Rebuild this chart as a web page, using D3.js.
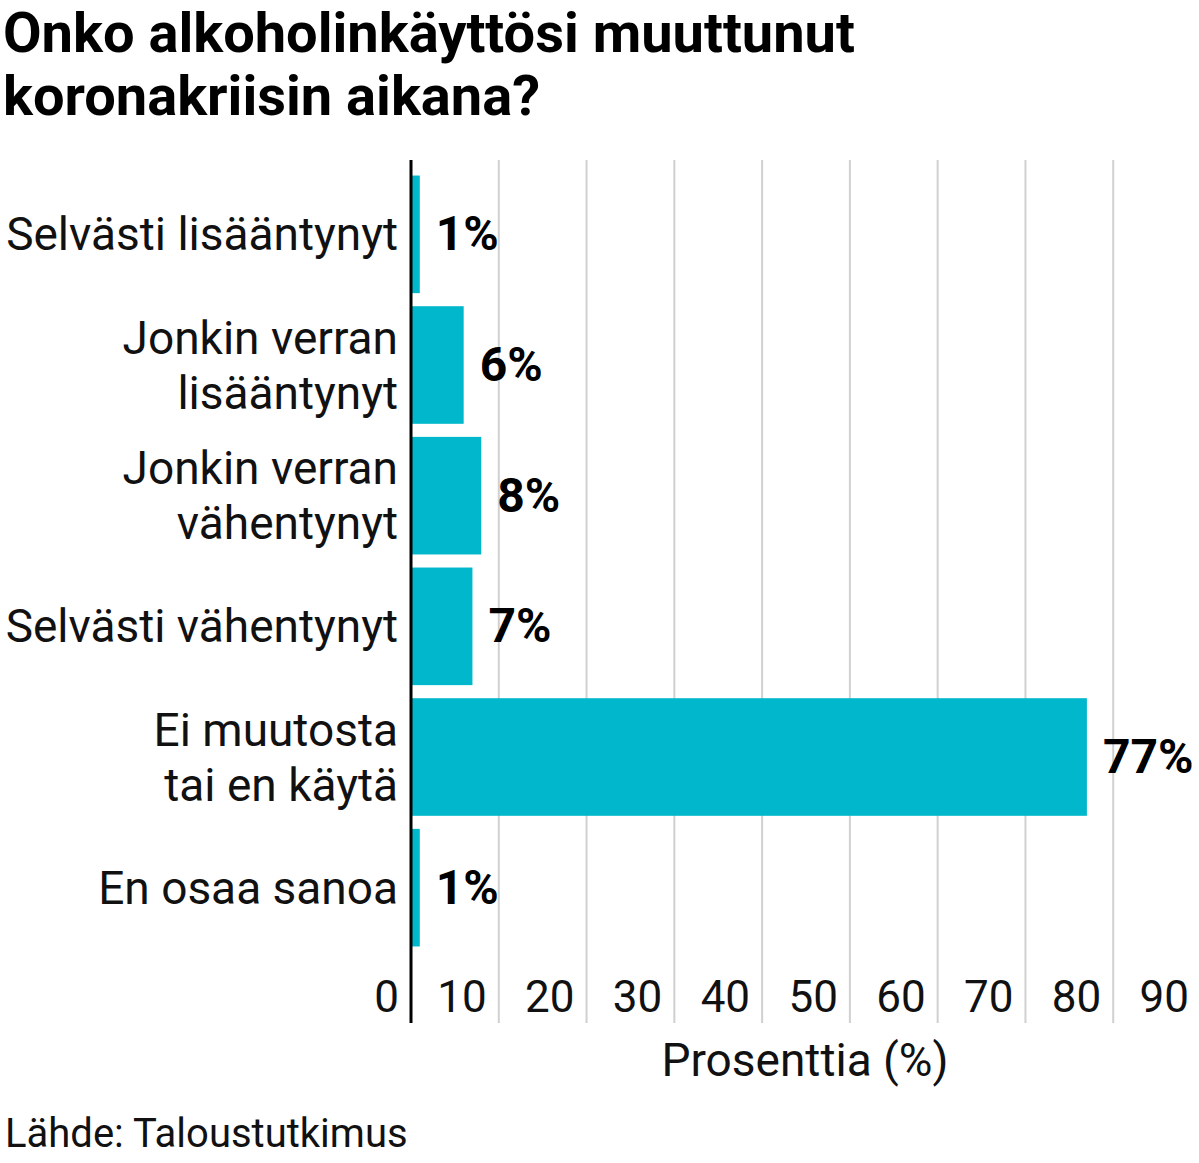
<!DOCTYPE html>
<html><head><meta charset="utf-8">
<script src="https://cdn.jsdelivr.net/npm/d3@7"></script>
<style>body{margin:0;background:#fff}text{font-family:Roboto,sans-serif}</style>
</head><body>
<svg id="c" width="1199" height="1163"></svg>
<script>
const categories=[["Selvästi lisääntynyt"],["Jonkin verran","lisääntynyt"],["Jonkin verran","vähentynyt"],["Selvästi vähentynyt"],["Ei muutosta","tai en käytä"],["En osaa sanoa"]];
const values=[1,6,8,7,77,1];
const ticks=[0,10,20,30,40,50,60,70,80,90];
const svg=d3.select("#c");
const x=d3.scaleLinear().domain([0,90]).range([411,1201]);
const y=d3.scaleBand().domain(d3.range(values.length)).range([169,953]).paddingInner(0.1).paddingOuter(0.05);
svg.append("text").attr("x",3).attr("y",52).attr("font-size",56).attr("font-weight",700).text("Onko alkoholinkäyttösi muuttunut");
svg.append("text").attr("x",3).attr("y",115).attr("font-size",56).attr("font-weight",700).text("koronakriisin aikana?");
svg.selectAll(".g").data(ticks.slice(1)).enter().append("line").attr("x1",d=>x(d)).attr("x2",d=>x(d)).attr("y1",160).attr("y2",1023).attr("stroke","#d0d0d0").attr("stroke-width",2);
svg.selectAll(".b").data(values).enter().append("rect").attr("x",x(0)).attr("y",(d,i)=>y(i)).attr("width",d=>x(d)-x(0)).attr("height",y.bandwidth()).attr("fill","#00b7cb");
svg.selectAll(".v").data(values).enter().append("text").attr("x",d=>x(d)+16).attr("y",(d,i)=>y(i)+y.bandwidth()/2+16).attr("font-size",48).attr("font-weight",700).text(d=>d+"%");
categories.forEach((c,i)=>{const cy=y(i)+y.bandwidth()/2;const n=c.length;
 c.forEach((l,j)=>svg.append("text").attr("x",398).attr("y",cy+16+(j-(n-1)/2)*55).attr("text-anchor","end").attr("font-size",46).attr("fill","#111").text(l));});
svg.selectAll(".t").data(ticks).enter().append("text").attr("x",d=>x(d)-12).attr("y",1012).attr("text-anchor","end").attr("font-size",44).attr("fill","#111").text(d=>d);
svg.append("line").attr("x1",x(0)).attr("x2",x(0)).attr("y1",160).attr("y2",1023).attr("stroke","#000").attr("stroke-width",3);
svg.append("text").attr("x",805).attr("y",1076).attr("text-anchor","middle").attr("font-size",46).attr("fill","#111").text("Prosenttia (%)");
svg.append("text").attr("x",5).attr("y",1147).attr("font-size",40).attr("fill","#111").text("Lähde: Taloustutkimus");
</script></body></html>
